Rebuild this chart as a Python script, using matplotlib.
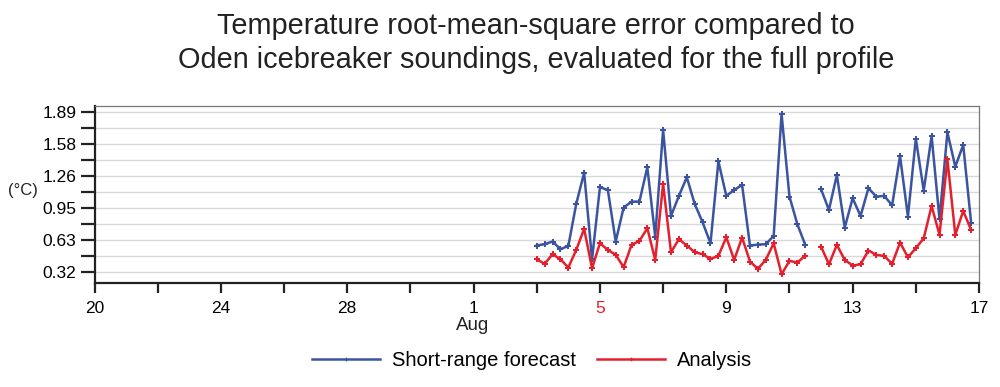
import numpy as np
import pandas as pd
import matplotlib
matplotlib.use("Agg")
import matplotlib.pyplot as plt
import matplotlib.dates as mdates

plt.rcParams['font.family'] = ['Liberation Sans', 'DejaVu Sans']

# 6-hourly times starting 2018-08-03 00Z
times = pd.date_range("2018-08-03 00:00", periods=56, freq="6h")

forecast = [0.577, 0.590, 0.616, 0.541, 0.573, 0.985, 1.292, 0.440, 1.149, 1.122,
            0.616, 0.949, 1.008, 1.008, 1.345, 0.665, 1.711, 0.867, 1.064, 1.247,
            0.985, 0.805, 0.599, 1.404, 1.064, 1.122, 1.172, 0.577, 0.586, 0.590,
            0.671, 1.868, 1.057, 0.786, 0.583, np.nan, 1.129, 0.926, 1.270, 0.753,
            1.041, 0.867, 1.139, 1.057, 1.064, 0.972, 1.456, 0.861, 1.626, 1.116,
            1.652, 0.835, 1.688, 1.351, 1.564, 0.802]

analysis = [0.442, 0.397, 0.492, 0.442, 0.361, 0.534, 0.740, 0.354, 0.599, 0.534,
            0.485, 0.364, 0.583, 0.622, 0.747, 0.436, 1.181, 0.511, 0.639, 0.577,
            0.511, 0.492, 0.446, 0.475, 0.658, 0.436, 0.655, 0.420, 0.348, 0.436,
            0.599, 0.295, 0.426, 0.410, 0.478, np.nan, 0.567, 0.393, 0.583, 0.436,
            0.380, 0.393, 0.528, 0.485, 0.475, 0.397, 0.606, 0.462, 0.550, 0.648,
            0.966, 0.681, 1.423, 0.681, 0.917, 0.730]

ytick_values = [0.315, 0.63, 0.945, 1.26, 1.575, 1.89]
ytick_labels = ["0.32", "0.63", "0.95", "1.26", "1.58", "1.89"]
xtick_labels = {"2018-07-20": "20", "2018-07-24": "24", "2018-07-28": "28",
                "2018-08-01": "1", "2018-08-05": "5", "2018-08-09": "9",
                "2018-08-13": "13", "2018-08-17": "17"}

blue = "#3a54a0"
red = "#e5202e"

fig = plt.figure(figsize=(10, 3.87), dpi=100)
ax = fig.add_axes([0.0945, 0.269, 0.8845, 0.457])

ax.plot(times, forecast, color=blue, lw=1.8, marker="P", ms=4.5, mew=0,
        label="Short-range forecast", zorder=3)
ax.plot(times, analysis, color=red, lw=1.8, marker="P", ms=4.5, mew=0,
        label="Analysis", zorder=3)

ax.set_xlim(pd.Timestamp("2018-07-20"), pd.Timestamp("2018-08-17"))
ax.set_ylim(0.21, 1.946)

# y ticks
ax.set_yticks(ytick_values)
ax.set_yticklabels(ytick_labels)
minor_y = [v + 0.1575 for v in ytick_values[:-1]]
ax.set_yticks(minor_y, minor=True)
ax.yaxis.grid(True, which="both", color="#d8d8d8", lw=1.0)
ax.set_axisbelow(True)

# x ticks
xt = pd.date_range("2018-07-20", "2018-08-17", freq="2D")
ax.set_xticks(xt)
labels = []
for d in xt:
    key = d.strftime("%Y-%m-%d")
    labels.append(xtick_labels.get(key, ""))
ax.set_xticklabels(labels)
for lbl, d in zip(ax.get_xticklabels(), xt):
    if d.strftime("%Y-%m-%d") == "2018-08-05":
        lbl.set_color(red)

ax.tick_params(axis="y", which="both", length=10, width=1.6, labelsize=12.5,
               direction="out", color="#222222", pad=3)
ax.tick_params(axis="x", which="major", length=7, width=1.6, labelsize=12.5,
               direction="out", color="#222222", pad=6)

for s in ["top", "right"]:
    ax.spines[s].set_color("#777777")
    ax.spines[s].set_linewidth(0.9)
for s in ["left", "bottom"]:
    ax.spines[s].set_color("#222222")
    ax.spines[s].set_linewidth(1.6)

fig.text(0.473, 1 - 326 / 387, "Aug", ha="center", va="center", fontsize=13.5, color="#222222")
fig.text(0.023, 1 - 190 / 387, "(°C)", ha="center", va="center", fontsize=12, color="#222222")

fig.text(0.536, 1 - 43 / 387,
         "Temperature root-mean-square error compared to\nOden icebreaker soundings, evaluated for the full profile",
         ha="center", va="center", fontsize=20.8, color="#222222", linespacing=1.3)

leg = fig.legend(loc="center", bbox_to_anchor=(0.532, 1 - 361 / 387), ncol=2,
                 frameon=False, fontsize=14.5, handlelength=3.4, columnspacing=1.0,
                 handletextpad=0.6, markerscale=0.6)

fig.savefig("out.png", dpi=100)
